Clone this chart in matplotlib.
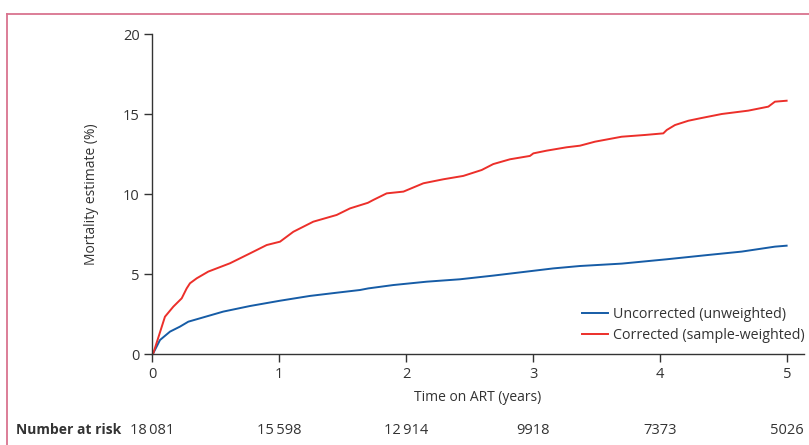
import numpy as np
import matplotlib
matplotlib.use("Agg")
import matplotlib.pyplot as plt
from matplotlib.lines import Line2D
from matplotlib.transforms import blended_transform_factory

plt.rcParams['font.family'] = ['Open Sans', 'DejaVu Sans']
plt.rcParams['font.size'] = 10

# (years, %)
t_unc = [0.0, 0.01, 0.063, 0.142, 0.22, 0.286, 0.404, 0.561, 0.772, 1.008, 1.244, 1.454,
         1.638, 1.703, 1.9, 2.163, 2.425, 2.687, 2.95, 3.16, 3.37, 3.7, 4.053, 4.38,
         4.643, 4.905, 4.997]
y_unc = [0.0, 0.05, 0.875, 1.4, 1.71, 2.02, 2.29, 2.65, 3.0, 3.33, 3.63, 3.83,
         4.0, 4.1, 4.31, 4.52, 4.67, 4.9, 5.15, 5.35, 5.5, 5.65, 5.92, 6.19,
         6.4, 6.71, 6.77]

t_cor = [0.0, 0.01, 0.102, 0.168, 0.234, 0.273, 0.299, 0.352, 0.443, 0.614, 0.772, 0.903,
         1.008, 1.113, 1.27, 1.454, 1.559, 1.70, 1.743, 1.848, 1.98, 2.137, 2.294, 2.451,
         2.596, 2.687, 2.819, 2.976, 3.003, 3.108, 3.265, 3.37, 3.488, 3.698, 3.882,
         4.026, 4.053, 4.118, 4.224, 4.315, 4.486, 4.695, 4.853, 4.905, 4.997]
y_cor = [0.0, 0.04, 2.33, 2.96, 3.48, 4.1, 4.42, 4.73, 5.15, 5.67, 6.29, 6.81,
         7.02, 7.64, 8.27, 8.69, 9.1, 9.45, 9.63, 10.04, 10.15, 10.67, 10.92, 11.13,
         11.5, 11.87, 12.17, 12.38, 12.54, 12.71, 12.92, 13.02, 13.27, 13.58, 13.69,
         13.79, 14.0, 14.31, 14.58, 14.73, 15.0, 15.21, 15.46, 15.77, 15.83]

risk_times = [0, 1, 2, 3, 4, 5]
risk_counts = ['18\u2009081', '15\u2009598', '12\u2009914', '9918', '7373', '5026']

blue = '#165ca6'
red = '#ec2f2a'
txt = '#333333'

fig = plt.figure(figsize=(8.09, 4.45), dpi=100)
ax = fig.add_axes([152/809, 1-354/445, (804-152)/809, (354-34)/445])

ax.plot(t_unc, y_unc, color=blue, lw=1.4, label='Uncorrected (unweighted)')
ax.plot(t_cor, y_cor, color=red, lw=1.4, label='Corrected (sample-weighted)')

ax.set_xlim(0, (804-152)/127)
ax.set_ylim(0, 20)
ax.set_xticks([0, 1, 2, 3, 4, 5])
ax.set_yticks([0, 5, 10, 15, 20])
for s in ['top', 'right']:
    ax.spines[s].set_visible(False)
for s in ['left', 'bottom']:
    ax.spines[s].set_color('#333333')
    ax.spines[s].set_linewidth(1.0)
ax.spines['left'].set_bounds(0, 20)
ax.tick_params(length=6, width=1.0, color='#333333', labelcolor=txt, labelsize=10.5, pad=3)
ax.set_xlabel('Time on ART (years)', color=txt, fontsize=10, labelpad=6)
ax.set_ylabel('Mortality estimate (%)', color=txt, fontsize=10, labelpad=17)

ax.legend(loc='lower right', bbox_to_anchor=(1.01, 0.018), frameon=False, fontsize=10.3,
          handlelength=1.8, handletextpad=0.35, labelspacing=0.4, labelcolor=txt,
          borderaxespad=0.0)

# number at risk row
tr = blended_transform_factory(ax.transData, fig.transFigure)
fig.text(121/809, 1-430/445, 'Number at risk', ha='right', va='center',
         fontweight='bold', color=txt, fontsize=10)
for t, c in zip(risk_times, risk_counts):
    ax.text(t, 1-430/445, c, transform=tr, ha='center', va='center',
            color=txt, fontsize=10.5, clip_on=False)

# pink frame
pink = '#d9738f'
fig.add_artist(Line2D([7/809, 1.0], [1-14/445, 1-14/445], color=pink, lw=1.3,
                      transform=fig.transFigure))
fig.add_artist(Line2D([7/809, 7/809], [1-14/445, 0.0], color=pink, lw=1.3,
                      transform=fig.transFigure))

fig.savefig('out.png', dpi=100)
